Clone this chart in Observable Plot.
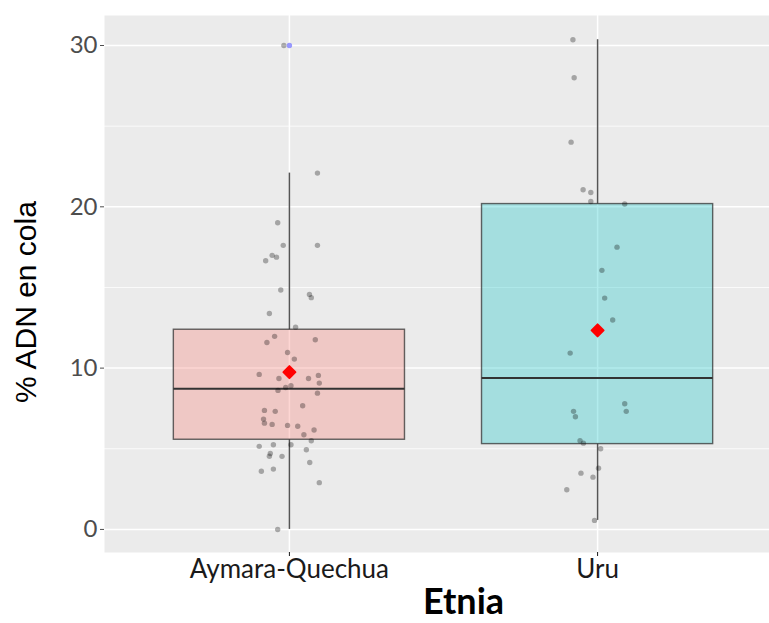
<!DOCTYPE html>
<html>
<head>
<meta charset="utf-8">
<script src="https://cdn.jsdelivr.net/npm/d3@7"></script>
<script src="https://cdn.jsdelivr.net/npm/@observablehq/plot@0.6"></script>
<style>
  html, body { margin: 0; padding: 0; background: #ffffff; }
  #chart svg { display: block; }
</style>
</head>
<body>
<div id="chart"></div>
<script>
// ---------- data ----------
const categories = ["Aymara-Quechua", "Uru"];
const boxColors = ["#F8766D", "#00BFC4"];
const q1Values = [5.56, 5.29];
const medianValues = [8.72, 9.38];
const q3Values = [12.38, 20.17];
const whiskerLow = [0.0, 0.56];
const whiskerHigh = [22.09, 30.36];
const meanValues = [9.75, 12.34];
const outlierCategory = ["Aymara-Quechua"];
const outlierValues = [30.0];
const yTicks = [0, 10, 20, 30];
const yMinorTicks = [5, 15, 25];

// jittered observations (value, jitter in category units)
const aymaraValues = [30.0, 22.09, 19.01, 17.61, 17.61, 16.99, 16.88, 16.66, 14.84, 14.57,
  14.37, 13.39, 12.54, 11.97, 11.59, 11.76, 10.97, 10.56, 9.61, 9.36,
  9.36, 9.55, 9.07, 8.80, 8.91, 8.62, 8.45, 7.67, 7.38, 7.32,
  6.84, 6.59, 6.51, 6.45, 6.40, 6.16, 5.87, 5.50, 5.15, 5.25,
  5.25, 4.94, 4.71, 4.54, 4.53, 4.15, 3.61, 3.74, 2.90, 0.0];
const aymaraJitter = [-0.018, 0.091, -0.038, -0.020, 0.091, -0.056, -0.042, -0.077, -0.028, 0.065,
  0.071, -0.065, 0.020, -0.048, -0.073, 0.084, -0.006, 0.016, -0.098, -0.034,
  0.062, 0.094, 0.097, -0.012, 0.005, -0.037, 0.091, 0.043, -0.081, -0.046,
  -0.084, -0.081, -0.056, -0.006, 0.027, 0.080, 0.047, 0.071, -0.098, -0.052,
  0.005, 0.055, -0.062, -0.065, -0.024, 0.066, -0.091, -0.052, 0.097, -0.038];
const uruValues = [30.36, 28.0, 24.01, 21.06, 20.89, 20.33, 20.17, 17.50, 16.06, 14.34,
  12.98, 10.93, 7.79, 7.32, 7.32, 6.99, 5.50, 5.35, 5.00, 3.80,
  3.49, 3.24, 2.46, 0.56];
const uruJitter = [-0.080, -0.076, -0.086, -0.047, -0.022, -0.022, 0.088, 0.063, 0.014, 0.023,
  0.049, -0.089, 0.088, 0.093, -0.078, -0.072, -0.057, -0.046, 0.010, 0.003,
  -0.054, -0.015, -0.100, -0.010];

// ---------- build tables ----------
const pos = c => categories.indexOf(c) + 1;
const halfWidth = 0.375;
const boxes = categories.map((c, i) => ({
  cat: c, x1: i + 1 - halfWidth, x2: i + 1 + halfWidth,
  q1: q1Values[i], med: medianValues[i], q3: q3Values[i],
  lo: whiskerLow[i], hi: whiskerHigh[i], mean: meanValues[i], color: boxColors[i]
}));
const whiskers = boxes.flatMap((b, i) => [
  {x: i + 1, y1: b.q3, y2: b.hi},
  {x: i + 1, y1: b.lo, y2: b.q1}
]);
const points = [
  ...aymaraValues.map((v, k) => ({x: pos("Aymara-Quechua") + aymaraJitter[k], y: v})),
  ...uruValues.map((v, k) => ({x: pos("Uru") + uruJitter[k], y: v}))
];
const outliers = outlierCategory.map((c, k) => ({x: pos(c), y: outlierValues[k]}));

const tickFont = "Lato, 'Open Sans', sans-serif";

const chart = Plot.plot({
  width: 769,
  height: 623,
  marginLeft: 104,
  marginRight: 0,
  marginTop: 15,
  marginBottom: 71,
  style: {background: "#ffffff", overflow: "hidden"},
  x: {type: "linear", domain: [0.4, 2.6], range: [104, 782]},
  y: {domain: [-1.43, 31.86]},
  marks: [
    Plot.frame({fill: "#ebebeb", stroke: null}),
    Plot.gridY(yMinorTicks, {stroke: "#ffffff", strokeOpacity: 1, strokeWidth: 0.8}),
    Plot.gridY(yTicks, {stroke: "#ffffff", strokeOpacity: 1, strokeWidth: 1.5}),
    Plot.gridX([1, 2], {stroke: "#ffffff", strokeOpacity: 1, strokeWidth: 1.5}),
    Plot.ruleX(whiskers, {x: "x", y1: "y1", y2: "y2", stroke: "#555555", strokeWidth: 1.5}),
    Plot.rect(boxes, {x1: "x1", x2: "x2", y1: "q1", y2: "q3", fill: "color", fillOpacity: 0.3,
      stroke: "#333333", strokeOpacity: 0.75, strokeWidth: 1.4}),
    Plot.ruleY(boxes, {x1: "x1", x2: "x2", y: "med", stroke: "#333333", strokeWidth: 2}),
    Plot.dot(points, {x: "x", y: "y", r: 2.7, fill: "#000000", fillOpacity: 0.3, stroke: null}),
    Plot.dot(outliers, {x: "x", y: "y", r: 2.7, fill: "#8080ff", fillOpacity: 0.8, stroke: null}),
    Plot.dot(boxes, {x: (d, i) => i + 1, y: "mean", symbol: "diamond2", r: 5.4, fill: "#ff0000",
      stroke: "#ff0000", strokeWidth: 2, strokeLinejoin: "round"}),
    Plot.axisY(yTicks, {tickSize: 4, tickPadding: 3, fontSize: 24, fontFamily: tickFont,
      color: "#4d4d4d", label: null}),
    Plot.axisX([1, 2], {tickSize: 4, tickPadding: 3, fontSize: 26, fontFamily: tickFont,
      color: "#1a1a1a", tickFormat: d => categories[d - 1], label: null}),
    Plot.text(["% ADN en cola"], {frameAnchor: "left", dx: -78, dy: 18, rotate: -90,
      textAnchor: "middle", lineAnchor: "middle",
      fontSize: 30, fontFamily: "'Liberation Sans', Arial, sans-serif", fill: "#000000"}),
    Plot.text(["Etnia"], {frameAnchor: "bottom", dx: 26.5, dy: 50, fontSize: 36,
      textAnchor: "middle", lineAnchor: "middle",
      fontWeight: "bold", fontFamily: tickFont, fill: "#000000"})
  ]
});
document.getElementById("chart").appendChild(chart);
</script>
</body>
</html>
